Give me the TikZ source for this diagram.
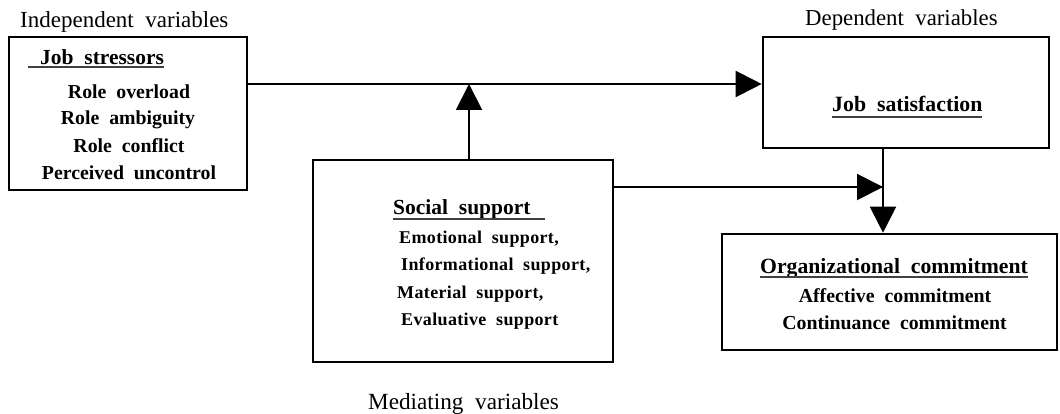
\documentclass[tikz,border=0pt]{standalone}
\usepackage{fontspec}
\setmainfont{Liberation Serif}[WordSpace=2]
\usetikzlibrary{arrows.meta}
\tikzset{
  box/.style={draw=black, line width=2.6pt, inner sep=0pt},
  conn/.style={draw=black, line width=2pt},
  arr/.style={conn, -{Triangle[length=26pt,width=26pt]}},
  txt/.style={inner sep=0pt, text height=0.62em, text depth=0pt, yshift=-4pt},
  lbl/.style={txt, anchor=west, font=\fontsize{23}{24}\selectfont},
  head/.style={txt, anchor=west, font=\fontsize{21.5}{24}\selectfont\bfseries},
  item/.style={txt, anchor=center, font=\fontsize{19.8}{22}\selectfont\bfseries},
  sitem/.style={txt, anchor=west, font=\fontsize{18}{22}\selectfont\bfseries\addfontfeature{LetterSpace=2}},
  uline/.style={draw=black!75, line width=1.4pt},
}
\begin{document}
\begin{tikzpicture}[x=1pt,y=-1pt]
\useasboundingbox (0,0) rectangle (1060,414);
% boxes
\node[box, minimum width=238pt, minimum height=153pt] (js) at (128,113.5) {};
\node[box, minimum width=300pt, minimum height=202pt] (ss) at (463,261) {};
\node[box, minimum width=286pt, minimum height=111pt] (sat) at (906,92.5) {};
\node[box, minimum width=335pt, minimum height=116pt] (oc) at (889.5,292) {};
% group labels
\node[lbl] (iv) at (20,20) {Independent variables};
\node[lbl, font=\fontsize{22.8}{24}\selectfont] (dv) at (805,18) {Dependent variables};
\node[lbl, font=\fontsize{23.2}{24}\selectfont] (mv) at (368,402) {Mediating variables};
% job stressors
\node[head] (jsh) at (40,57) {Job stressors};
\draw[uline] (28,67) -- (164,67);
\node[item] (r1) at (129,91) {Role overload};
\node[item] (r2) at (128,117) {Role ambiguity};
\node[item] (r3) at (129,145) {Role conflict};
\node[item] (r4) at (129,172) {Perceived uncontrol};
% social support
\node[head] (ssh) at (393,207) {Social support};
\draw[uline] (393,219) -- (545,219);
\node[sitem] (s1) at (399,236) {Emotional support,};
\node[sitem] (s2) at (401,263) {Informational support,};
\node[sitem] (s3) at (397,291) {Material support,};
\node[sitem] (s4) at (401,318) {Evaluative support};
% job satisfaction
\node[head, font=\fontsize{21.8}{24}\selectfont\bfseries] (sath) at (832,104) {Job satisfaction};
\draw[uline] (832,117) -- (982,117);
% organizational commitment
\node[head, font=\fontsize{21.7}{24}\selectfont\bfseries] (och) at (760,266) {Organizational commitment};
\draw[uline] (760,277) -- (1028,277);
\node[item] (o1) at (895,295) {Affective commitment};
\node[item] (o2) at (894.5,322) {Continuance commitment};
% connectors
\coordinate (j1) at (469,84);
\coordinate (j2) at (883,187);
\draw[arr] (js.east |- j1) -- (sat.west |- j1);
\draw[arr] (ss.north -| j1) -- (j1);
\draw[arr] (ss.east |- j2) -- (j2);
\draw[arr] (sat.south -| j2) -- (oc.north -| j2);
\end{tikzpicture}
\end{document}
